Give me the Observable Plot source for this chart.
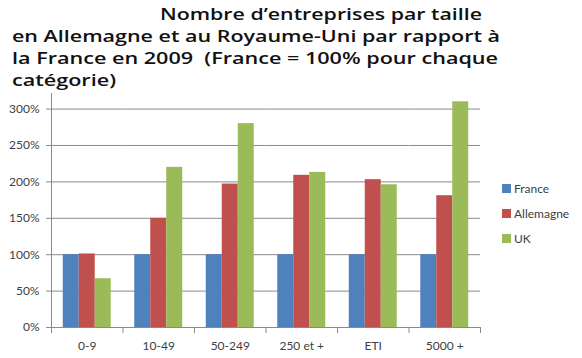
<!DOCTYPE html>
<html><head><meta charset="utf-8">
<script src="https://cdn.jsdelivr.net/npm/d3@7"></script>
<script src="https://cdn.jsdelivr.net/npm/@observablehq/plot@0.6"></script>
<style>
body{margin:0;background:#fff;width:582px;height:358px;overflow:hidden;position:relative;}
.tl{position:absolute;white-space:pre;font-family:"Open Sans",sans-serif;font-size:16px;font-weight:600;color:#111;transform-origin:0 0;line-height:20px;}
#chart{position:absolute;left:0;top:92px;}
#legend{position:absolute;left:502px;top:176px;font-family:Lato,sans-serif;font-size:12px;color:#404040;}
.li{display:flex;align-items:center;height:25px;}
.sw{width:9px;height:9px;margin-right:3px;}
</style></head><body>
<div id="title"></div>
<div id="chart"></div>
<div id="legend"></div>
<script>
const categories = ["0-9", "10-49", "50-249", "250 et +", "ETI", "5000 +"];
const series = ["France", "Allemagne", "UK"];
const france = [100, 100, 100, 100, 100, 100];
const allemagne = [101, 150, 197, 209, 203, 181];
const uk = [67, 220, 280, 213, 196, 310];
const colors = ["#4F81BD", "#C0504D", "#9BBB59"];
const yTicks = [0, 50, 100, 150, 200, 250, 300];
const titleLines = [
  "Nombre d\u2019entreprises par taille",
  "en Allemagne et au Royaume-Uni par rapport \u00e0",
  "la France en 2009  (France = 100% pour chaque",
  "cat\u00e9gorie)"
];

const values = [france, allemagne, uk];
const rows = [];
categories.forEach((c, i) => series.forEach((s, j) => rows.push({category: c, series: s, value: values[j][i]})));

// Title
const tl = [[160, 4], [12, 26], [12, 48], [12, 70]];
titleLines.forEach((t, i) => {
  const d = document.createElement("div");
  d.className = "tl";
  d.textContent = t;
  d.style.left = tl[i][0] + "px";
  d.style.top = tl[i][1] + "px";
  document.getElementById("title").appendChild(d);
});
// stretch title lines to match reference width
let kk = 1;
document.querySelectorAll(".tl").forEach((d, i) => {
  const w = d.getBoundingClientRect().width;
  const target = [322, 488, 486, 0][i];
  if (i !== 3) kk = target / w;
  d.style.transform = `scaleX(${kk})`;
});

const grid = "#8a8a8a";
const plot = Plot.plot({
  width: 582,
  height: 266,
  marginLeft: 51,
  marginRight: 102,
  marginTop: 2,
  marginBottom: 31,
  style: {fontFamily: "Lato, sans-serif", fontSize: "12px", color: "#404040", background: "transparent"},
  fx: {domain: categories, padding: 0, label: null, round: false},
  x: {domain: series, paddingInner: 0, paddingOuter: 0.735, axis: null, round: false},
  y: {domain: [0, 320], label: null},
  color: {domain: series, range: colors},
  marks: [
    Plot.ruleY(yTicks, {stroke: grid, strokeWidth: 1}),
    Plot.barY(rows, {fx: "category", x: "series", y: "value", fill: "series"}),
    Plot.frame({anchor: "left", facetAnchor: "left", stroke: grid, insetTop: -1, insetBottom: -5}),
    Plot.frame({anchor: "left", stroke: grid, insetTop: 233, insetBottom: -5}),
    Plot.frame({anchor: "right", facetAnchor: "right", stroke: grid, insetTop: 233, insetBottom: -5}),
    Plot.axisY({ticks: yTicks, tickFormat: d => d + "%", tickSize: 5, tickPadding: 7, stroke: grid, fill: "#404040", label: null}),
    Plot.axisFx({anchor: "bottom", tickSize: 0, tickPadding: 14, fill: "#404040", label: null})
  ]
});
document.getElementById("chart").appendChild(plot);

// Legend
const leg = document.getElementById("legend");
series.forEach((s, i) => {
  const r = document.createElement("div");
  r.className = "li";
  const sw = document.createElement("span");
  sw.className = "sw";
  sw.style.background = colors[i];
  const t = document.createElement("span");
  t.textContent = s;
  r.appendChild(sw); r.appendChild(t);
  leg.appendChild(r);
});
</script>
</body></html>
